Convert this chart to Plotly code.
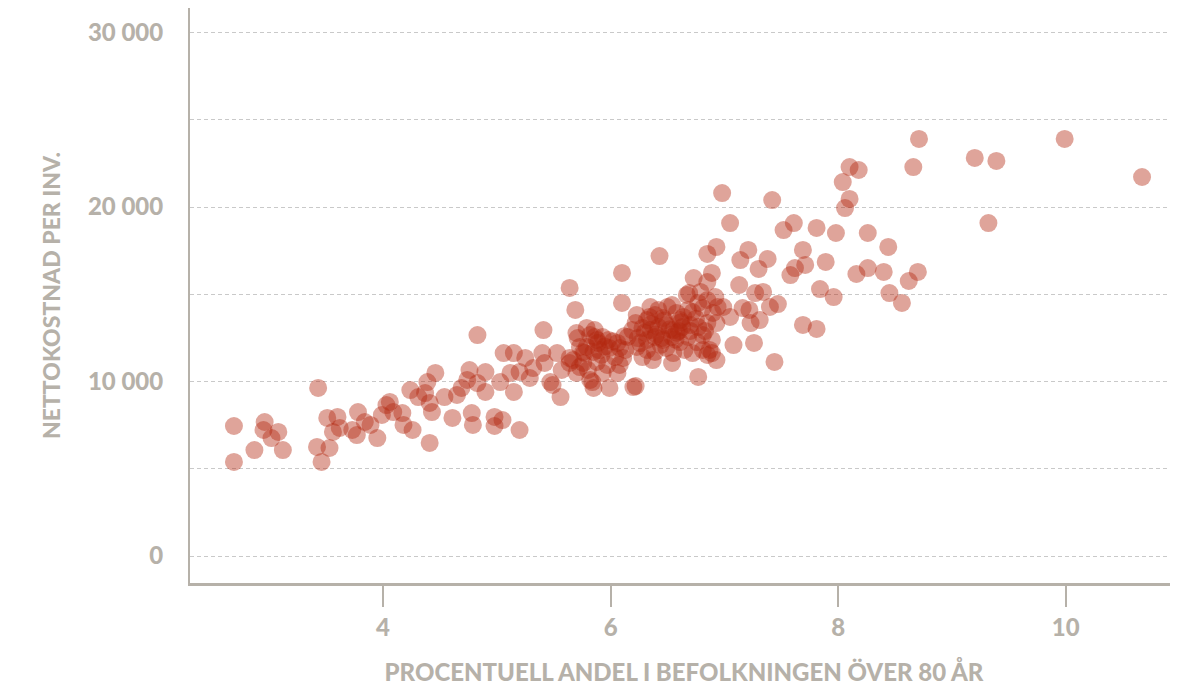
import plotly.graph_objects as go

# Share of population over 80 (%)
andel_80 = [
    2.69, 2.69, 2.87, 2.96, 2.95, 3.02, 3.08, 3.12, 3.43, 3.42,
    3.46, 3.53, 3.51, 3.60, 3.56, 3.62, 3.73, 3.77, 3.78, 3.84,
    3.89, 3.95, 3.99, 4.03, 4.06, 4.09, 4.17, 4.18, 4.24, 4.26,
    4.31, 4.41, 4.39, 4.37, 4.41, 4.46, 4.43, 4.54, 4.61, 4.65,
    4.69, 4.76, 4.78, 4.79, 4.74, 4.83, 4.83, 4.90, 4.90, 4.98,
    4.98, 5.05, 5.03, 5.06, 5.15, 5.15, 5.12, 5.20, 5.25, 5.20,
    5.29, 5.32, 5.40, 5.42, 5.41, 5.47, 5.49, 5.53, 5.56, 5.57,
    5.64, 5.64, 5.71, 5.73, 5.77, 5.79, 5.82, 5.85, 5.86, 5.88,
    5.64, 5.69, 6.10, 6.10, 6.20, 5.99, 6.06, 6.35, 6.50, 6.42,
    6.23, 6.22, 6.39, 6.32, 6.46, 6.58, 6.64, 6.68, 6.77, 6.81,
    6.90, 6.94, 6.19, 6.28, 6.35, 6.42, 6.49, 6.55, 6.63, 6.70,
    6.77, 6.85, 6.93, 6.15, 6.24, 6.32, 6.39, 6.46, 6.54, 6.61,
    6.68, 6.76, 6.81, 6.89, 6.23, 6.32, 6.39, 6.49, 6.55, 6.65,
    6.72, 6.81, 6.87, 6.28, 6.37, 6.54, 6.77, 6.85, 6.89, 6.93,
    5.70, 5.79, 5.82, 5.86, 5.93, 5.98, 5.89, 5.99, 6.06, 6.08,
    6.13, 5.73, 5.76, 5.85, 5.92, 6.04, 6.11, 5.67, 5.76, 5.88,
    5.97, 6.08, 5.70, 5.80, 5.84, 5.93, 6.22, 6.98, 7.42, 7.05,
    7.52, 7.61, 6.43, 6.85, 6.93, 7.14, 7.21, 7.30, 7.38, 7.58,
    7.62, 6.73, 6.89, 6.85, 7.13, 6.69, 6.79, 6.92, 7.27, 7.34,
    7.47, 7.22, 7.08, 7.26, 7.44, 6.67, 6.54, 6.85, 7.16, 7.40,
    7.31, 7.23, 6.99, 7.05, 6.72, 6.61, 8.71, 8.66, 9.20, 9.39,
    9.99, 10.67, 9.32, 8.10, 8.18, 8.04, 8.10, 8.06, 7.81, 7.98,
    8.26, 8.44, 7.69, 7.71, 7.89, 8.16, 8.26, 8.40, 8.70, 8.62,
    7.84, 7.96, 8.45, 8.56, 7.69, 7.81,
    6.30, 6.40, 6.52, 6.60, 6.36, 6.47, 6.57, 6.26, 6.44, 6.62,
    5.95, 6.02, 5.90, 6.12, 6.70, 6.75, 6.83, 6.45, 6.34, 6.58,
]

# Net cost per inhabitant (SEK)
nettokostnad = [
    7450, 5390, 6070, 7680, 7220, 6760, 7110, 6070, 9630, 6250,
    5390, 6190, 7910, 7970, 7110, 7340, 7220, 6930, 8250, 7680,
    7510, 6760, 8080, 8650, 8830, 8250, 8190, 7510, 9510, 7220,
    9110, 6480, 9970, 9340, 8770, 10490, 8250, 9110, 7910, 9230,
    9630, 10660, 8190, 7510, 10090, 9910, 12660, 10540, 9400, 7970,
    7450, 7790, 9970, 11630, 11630, 9400, 10490, 7220, 11350, 10540,
    10200, 10770, 11630, 11060, 12950, 9970, 9800, 11630, 9110, 10660,
    11060, 11350, 12490, 10830, 11630, 11980, 10090, 9630, 12950, 12380,
    15360, 14100, 16220, 14500, 9680, 9630, 10490, 14270, 14270, 14100,
    13810, 13350, 13810, 13520, 13640, 13930, 13700, 14100, 14500, 14210,
    13930, 14270, 12950, 13070, 12950, 13120, 13240, 12950, 13120, 13240,
    13120, 13350, 13350, 12550, 12490, 12380, 12550, 12380, 12550, 12260,
    12550, 12260, 12660, 12380, 11980, 11810, 11690, 11920, 11630, 11810,
    11630, 11810, 11810, 11400, 11230, 11060, 10260, 11520, 11630, 11230,
    12780, 13070, 12660, 12550, 12550, 12380, 12210, 11920, 12210, 11920,
    11810, 11980, 11690, 11690, 11520, 11400, 11350, 11230, 11060, 11120,
    10950, 10950, 10490, 10660, 9970, 10490, 9740, 20800, 20400, 19080,
    18680, 19080, 17190, 17310, 17710, 16960, 17540, 16450, 17020, 16100,
    16500, 15930, 16220, 15700, 15530, 15070, 15130, 14840, 15070, 15130,
    14440, 14100, 12090, 12210, 11120, 14960, 14380, 14670, 14210, 14270,
    13520, 13350, 14270, 13700, 13980, 13520, 23900, 22290, 22810, 22640,
    23900, 21720, 19080, 22290, 22120, 21430, 20460, 19940, 18800, 18510,
    18510, 17710, 17540, 16680, 16850, 16160, 16500, 16280, 16280, 15760,
    15300, 14840, 15070, 14500, 13240, 13010,
    12800, 12700, 13000, 12900, 13300, 13500, 12400, 12200, 12100, 13400,
    12000, 12300, 11800, 12600, 12900, 13600, 12900, 12500, 13700, 12800,
]

y_tickvals = [0, 5000, 10000, 15000, 20000, 25000, 30000]
y_ticktext = ["0", "", "10 000", "", "20 000", "", "30 000"]
x_tickvals = [4, 6, 8, 10]
x_ticktext = ["4", "6", "8", "10"]

x_title = "PROCENTUELL ANDEL I BEFOLKNINGEN ÖVER 80 ÅR"
y_title = "NETTOKOSTNAD PER INV."

GRAY = "#b6b1a9"
FONT = "Lato"

fig = go.Figure()
fig.add_trace(go.Scatter(
    x=andel_80, y=nettokostnad, mode="markers",
    marker=dict(size=18, color="rgb(178,38,14)", opacity=0.42, line=dict(width=0)),
    hoverinfo="x+y", showlegend=False,
))

fig.update_layout(
    width=1170, height=683,
    margin=dict(l=182, r=0, t=0, b=108, autoexpand=False),
    paper_bgcolor="white", plot_bgcolor="white",
    font=dict(family=FONT, color=GRAY, size=22),
)

fig.update_xaxes(
    range=[2.304, 10.986], automargin=False,
    tickvals=x_tickvals, ticktext=x_ticktext,
    ticks="outside", ticklen=21, tickwidth=2, tickcolor=GRAY,
    tickfont=dict(family=FONT, size=24, color=GRAY, weight=900),
    showline=True, linecolor=GRAY, linewidth=3,
    showgrid=False, zeroline=False,
    title=dict(text=x_title, font=dict(family=FONT, size=24, color=GRAY, weight=900), standoff=25),
)

fig.update_yaxes(
    range=[-1547, 31404], automargin=False,
    tickvals=y_tickvals, ticktext=y_ticktext,
    ticks="", ticklabelstandoff=20,
    tickfont=dict(family=FONT, size=24, color=GRAY, weight=900),
    showline=True, linecolor=GRAY, linewidth=2,
    showgrid=True, gridcolor="#c9c9c9", gridwidth=1, griddash="4px,3px",
    zeroline=False,
    title=dict(text=y_title, font=dict(family=FONT, size=23, color=GRAY, weight=900), standoff=21),
)

fig.write_html("out.html")
